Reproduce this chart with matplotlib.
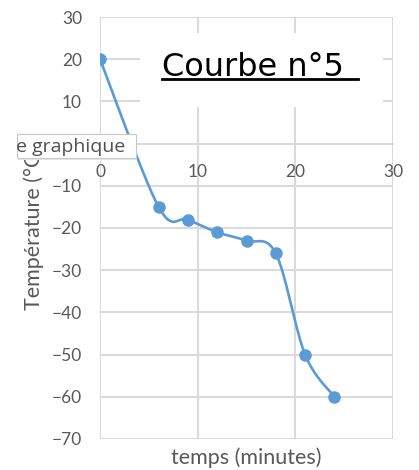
import numpy as np
import matplotlib
matplotlib.use('Agg')
import matplotlib.pyplot as plt
from matplotlib.patches import Rectangle
from matplotlib.lines import Line2D

# data
temps = [0, 6, 9, 12, 15, 18, 21, 24]
temperature = [20, -15, -18, -21, -23, -26, -50, -60]
x_ticks = [0, 10, 20, 30]
y_ticks = [-70, -60, -50, -40, -30, -20, -10, 0, 10, 20, 30]

W, H = 419, 470
LINE = '#5B9BD5'
GRID = '#D9D9D9'
TXT = '#595959'


def px(x, y):
    # pixel position (from top-left) -> figure fraction
    return x / W, 1 - y / H


def excel_smooth(xs, ys, n=30):
    # bezier smoothing like excel's "smoothed line"
    p = np.column_stack([xs, ys]).astype(float)
    out = [p[0]]
    for i in range(len(p) - 1):
        p0 = p[i - 1] if i > 0 else p[i]
        p1, p2 = p[i], p[i + 1]
        p3 = p[i + 2] if i + 2 < len(p) else p[i + 1]
        c1 = p1 + (p2 - p0) / 6
        c2 = p2 - (p3 - p1) / 6
        t = np.linspace(0, 1, n)[1:, None]
        seg = ((1 - t) ** 3) * p1 + 3 * ((1 - t) ** 2) * t * c1 + 3 * (1 - t) * t ** 2 * c2 + t ** 3 * p2
        out.extend(seg)
    out = np.array(out)
    return out[:, 0], out[:, 1]


plt.rcParams['font.family'] = ['Lato', 'DejaVu Sans']

fig = plt.figure(figsize=(W / 100, H / 100), dpi=100)
l, t = px(100, 17)
r, b = px(393, 439)
ax = fig.add_axes([l, b, r - l, t - b])

sx, sy = excel_smooth(temps, temperature)
ax.plot(sx, sy, color=LINE, lw=1.9, zorder=4, solid_capstyle='round')
ax.plot(temps, temperature, 'o', color=LINE, ms=8, zorder=5)

ax.set_xlim(0, 30)
ax.set_ylim(-70, 30)
ax.set_xticks(x_ticks)
ax.set_yticks(y_ticks)
ax.grid(True, color=GRID, lw=1.4)
ax.set_axisbelow(True)
for s in ['top', 'right', 'left']:
    ax.spines[s].set_visible(False)
ax.spines['bottom'].set_position(('data', 0))
ax.spines['bottom'].set_color(GRID)
ax.spines['bottom'].set_linewidth(1.4)
ax.tick_params(length=0, labelsize=12.5, labelcolor=TXT)
ax.tick_params(axis='y', pad=13)
ax.tick_params(axis='x', pad=15)

ax.text(-0.225, 0.5, 'Température (°C)', transform=ax.transAxes, rotation=90,
        ha='center', va='center', fontsize=15.5, color=TXT)
ax.text(0.5, -0.045, 'temps (minutes)', transform=ax.transAxes,
        ha='center', va='center', fontsize=15.5, color=TXT)

# white box behind the title
ax.add_patch(Rectangle((0.1365, 0.787), 0.8295, 0.175, transform=ax.transAxes,
                       facecolor='white', edgecolor='none', zorder=3))
ax.text(0.2116, 0.860, 'Courbe n°5', transform=ax.transAxes, family='DejaVu Sans',
        fontsize=23, color='black', va='baseline', ha='left', zorder=6)
ax.add_line(Line2D([0.2116, 0.8805], [0.853, 0.853], transform=ax.transAxes,
                   color='black', lw=2, zorder=6))

# tooltip "Zone de graphique" cut at the left
x0, y0 = px(17, 158)
x1, y1 = px(136, 134)
fig.patches.append(Rectangle((x0 + 0.003, y0 - 0.004), x1 - x0, y1 - y0, transform=fig.transFigure,
                             facecolor='#E6E6E6', edgecolor='none', zorder=9))
fig.patches.append(Rectangle((x0, y0), x1 - x0, y1 - y0, transform=fig.transFigure,
                             facecolor='white', edgecolor='#C8C8C8', lw=0.8, zorder=10))
tx, ty = px(16, 147)
fig.text(tx, ty, 'e graphique', family='Open Sans', fontsize=14, color='#505050',
         ha='left', va='center', zorder=11)

fig.savefig('out.png', dpi=100)
